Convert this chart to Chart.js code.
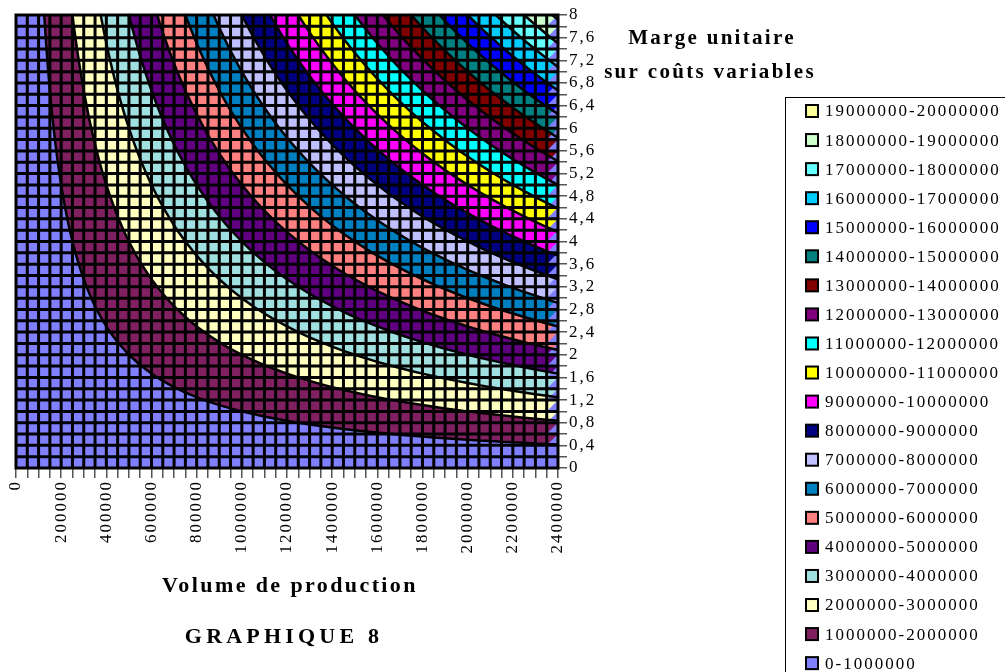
<!DOCTYPE html>
<html>
<head>
<meta charset="utf-8">
<script src="https://cdn.jsdelivr.net/npm/chart.js@4.4.0/dist/chart.umd.min.js"></script>
<style>
  html, body { margin: 0; padding: 0; background: #fff; }
  #wrap { width: 1005px; height: 672px; position: relative; }
</style>
</head>
<body>
<div id="wrap"><canvas id="surfaceChart"></canvas></div>
<script>
// Volume de production (grid nodes on x)
const volumes = [0, 50000, 100000, 150000, 200000, 250000, 300000, 350000, 400000, 450000,
  500000, 550000, 600000, 650000, 700000, 750000, 800000, 850000, 900000, 950000,
  1000000, 1050000, 1100000, 1150000, 1200000, 1250000, 1300000, 1350000, 1400000, 1450000,
  1500000, 1550000, 1600000, 1650000, 1700000, 1750000, 1800000, 1850000, 1900000, 1950000,
  2000000, 2050000, 2100000, 2150000, 2200000, 2250000, 2300000, 2350000, 2400000];

// Marge unitaire sur coûts variables (grid nodes on y)
const marges = [0, 0.2, 0.4, 0.6, 0.8, 1, 1.2, 1.4, 1.6, 1.8, 2, 2.2, 2.4, 2.6, 2.8, 3, 3.2, 3.4, 3.6, 3.8,
  4, 4.2, 4.4, 4.6, 4.8, 5, 5.2, 5.4, 5.6, 5.8, 6, 6.2, 6.4, 6.6, 6.8, 7, 7.2, 7.4, 7.6, 7.8, 8];

const volumeTickLabels = [0, 200000, 400000, 600000, 800000, 1000000, 1200000, 1400000, 1600000,
  1800000, 2000000, 2200000, 2400000];
const margeTickLabels = [0, 0.4, 0.8, 1.2, 1.6, 2, 2.4, 2.8, 3.2, 3.6, 4, 4.4, 4.8, 5.2, 5.6, 6,
  6.4, 6.8, 7.2, 7.6, 8];

// contour bands (marge totale)
const bandLimits = [0, 1000000, 2000000, 3000000, 4000000, 5000000, 6000000, 7000000, 8000000, 9000000,
  10000000, 11000000, 12000000, 13000000, 14000000, 15000000, 16000000, 17000000, 18000000, 19000000];
const bandLabels = ['0-1000000', '1000000-2000000', '2000000-3000000', '3000000-4000000',
  '4000000-5000000', '5000000-6000000', '6000000-7000000', '7000000-8000000', '8000000-9000000',
  '9000000-10000000', '10000000-11000000', '11000000-12000000', '12000000-13000000',
  '13000000-14000000', '14000000-15000000', '15000000-16000000', '16000000-17000000',
  '17000000-18000000', '18000000-19000000', '19000000-20000000'];
const bandColors = ['#8080ff', '#802060', '#ffffc0', '#a0e0e0', '#600080', '#ff8080', '#0080c0',
  '#c0c0ff', '#000080', '#ff00ff', '#ffff00', '#00ffff', '#800080', '#800000', '#008080',
  '#0000ff', '#00ccff', '#66ffff', '#ccffcc', '#ffff99'];

// marge totale = marge unitaire x volume, one row per marge
const surface = marges.map(m => volumes.map(v => v * m));

function hexToRgb(h) {
    return [parseInt(h.substr(1, 2), 16), parseInt(h.substr(3, 2), 16), parseInt(h.substr(5, 2), 16)];
}

function findCell(nodes, val) {
    for (let k = 0; k < nodes.length - 2; k++) {
        if (val < nodes[k + 1]) return k;
    }
    return nodes.length - 2;
}

function bandOf(z) {
    let b = 0;
    for (let k = 0; k < bandLimits.length; k++) {
        if (z >= bandLimits[k]) b = k;
    }
    return b;
}

const surfacePlugin = {
    id: 'surface',
    beforeDraw(chart) {
        chart.ctx.letterSpacing = '2px';
    },
    beforeDatasetsDraw(chart) {
        const { ctx, chartArea: a, scales: { x, y } } = chart;
        const xs = volumes.map(v => x.getPixelForValue(v));
        const ys = marges.map(m => y.getPixelForValue(m));
        const rgb = bandColors.map(hexToRgb);

        // colour every pixel of the plot from the interpolated surface
        const left = Math.round(a.left), top = Math.round(a.top);
        const w = Math.round(a.right) - left, h = Math.round(a.bottom) - top;
        const img = ctx.createImageData(w, h);
        for (let py = 0; py < h; py++) {
            const m = y.getValueForPixel(top + py + 0.5);
            const j = findCell(marges, m);
            const tm = Math.min(Math.max((m - marges[j]) / (marges[j + 1] - marges[j]), 0), 1);
            for (let px = 0; px < w; px++) {
                const v = x.getValueForPixel(left + px + 0.5);
                const i = findCell(volumes, v);
                const tv = Math.min(Math.max((v - volumes[i]) / (volumes[i + 1] - volumes[i]), 0), 1);
                const z = surface[j][i] * (1 - tv) * (1 - tm) + surface[j][i + 1] * tv * (1 - tm)
                    + surface[j + 1][i] * (1 - tv) * tm + surface[j + 1][i + 1] * tv * tm;
                const c = rgb[bandOf(z)];
                const o = (py * w + px) * 4;
                img.data[o] = c[0]; img.data[o + 1] = c[1]; img.data[o + 2] = c[2]; img.data[o + 3] = 255;
            }
        }
        ctx.putImageData(img, left, top);

        ctx.save();
        // Excel leaves the lower-right half of the last column in the first colour
        const li = volumes.length - 2;
        ctx.fillStyle = bandColors[0];
        for (let j = 0; j < marges.length - 1; j++) {
            ctx.beginPath();
            ctx.moveTo(xs[li], ys[j]);
            ctx.lineTo(xs[li + 1], ys[j]);
            ctx.lineTo(xs[li + 1], ys[j + 1]);
            ctx.closePath();
            ctx.fill();
        }

        // wireframe
        ctx.strokeStyle = '#000';
        ctx.lineWidth = 3;
        ctx.beginPath();
        xs.forEach(px => { ctx.moveTo(px, ys[0] + 1.5); ctx.lineTo(px, ys[ys.length - 1] - 1.5); });
        ys.forEach(py => { ctx.moveTo(xs[0] - 1.5, py); ctx.lineTo(xs[xs.length - 1] + 1.5, py); });
        ctx.stroke();

        // contour lines between bands (marching squares)
        ctx.lineWidth = 2.5;
        ctx.lineJoin = 'round';
        ctx.lineCap = 'round';
        ctx.beginPath();
        for (let b = 1; b < bandLimits.length; b++) {
            const T = bandLimits[b];
            for (let j = 0; j < marges.length - 1; j++) {
                for (let i = 0; i < volumes.length - 1; i++) {
                    const corners = [
                        [xs[i], ys[j], surface[j][i]],
                        [xs[i + 1], ys[j], surface[j][i + 1]],
                        [xs[i + 1], ys[j + 1], surface[j + 1][i + 1]],
                        [xs[i], ys[j + 1], surface[j + 1][i]]
                    ];
                    const pts = [];
                    for (let e = 0; e < 4; e++) {
                        const p = corners[e], q = corners[(e + 1) % 4];
                        if ((p[2] < T) !== (q[2] < T)) {
                            const t = (T - p[2]) / (q[2] - p[2]);
                            const pt = [p[0] + (q[0] - p[0]) * t, p[1] + (q[1] - p[1]) * t];
                            if (!pts.some(r => Math.abs(r[0] - pt[0]) < 0.01 && Math.abs(r[1] - pt[1]) < 0.01)) pts.push(pt);
                        }
                    }
                    for (let k = 0; k + 1 < pts.length; k += 2) {
                        ctx.moveTo(pts[k][0], pts[k][1]);
                        ctx.lineTo(pts[k + 1][0], pts[k + 1][1]);
                    }
                }
            }
        }
        ctx.stroke();
        ctx.restore();
    },
    afterDraw(chart) {
        const ctx = chart.ctx;
        const a = chart.chartArea;
        ctx.save();
        ctx.fillStyle = '#000';
        ctx.textBaseline = 'alphabetic';

        // axis titles
        ctx.font = 'bold 21px "Liberation Serif", "Times New Roman", serif';
        ctx.textAlign = 'center';
        ctx.letterSpacing = '2.3px';
        ctx.fillText('Marge unitaire', 712, 44);
        ctx.fillText('sur coûts variables', 710, 78);
        const cx = (a.left + a.right) / 2;
        ctx.font = 'bold 22px "Liberation Serif", "Times New Roman", serif';
        ctx.letterSpacing = '2.4px';
        ctx.fillText('Volume de production', cx + 3, 592);
        ctx.letterSpacing = '4.2px';
        ctx.fillText('GRAPHIQUE 8', cx - 3, 643);

        // legend box
        ctx.strokeStyle = '#000';
        ctx.lineWidth = 1;
        ctx.strokeRect(785.5, 97.5, 260, 620);
        ctx.font = '17px "Liberation Serif", "Times New Roman", serif';
        ctx.textAlign = 'left';
        ctx.textBaseline = 'middle';
        ctx.letterSpacing = '2px';
        const items = chart.data.datasets.slice().reverse();
        items.forEach((ds, row) => {
            const cy = 111 + row * 29.06;
            ctx.fillStyle = ds.backgroundColor;
            ctx.fillRect(806, cy - 6, 12, 12);
            ctx.lineWidth = 2;
            ctx.strokeRect(806, cy - 6, 12, 12);
            ctx.fillStyle = '#000';
            ctx.fillText(ds.label, 825, cy + 1);
        });
        ctx.restore();
    }
};

Chart.defaults.font.family = '"Liberation Serif", "Times New Roman", Times, serif';
Chart.defaults.font.size = 17;
Chart.defaults.color = '#000';

new Chart(document.getElementById('surfaceChart'), {
    type: 'scatter',
    data: {
        datasets: bandLabels.map((label, i) => ({
            label: label,
            data: [],
            backgroundColor: bandColors[i],
            borderColor: '#000'
        }))
    },
    options: {
        responsive: true,
        maintainAspectRatio: false,
        animation: false,
        layout: { padding: { left: 16, top: 15, right: 367, bottom: 54 } },
        plugins: { legend: { display: false }, tooltip: { enabled: false } },
        scales: {
            x: {
                type: 'linear', position: 'bottom', min: 0, max: 2400000,
                border: { display: false },
                grid: { drawOnChartArea: false, drawTicks: true, tickLength: 10, color: '#555', lineWidth: 1.5 },
                ticks: {
                    stepSize: 50000, autoSkip: false, minRotation: 90, maxRotation: 90, padding: 2,
                    callback: v => volumeTickLabels.includes(v) ? String(v) : ''
                },
                afterFit: s => { s.height = 150; }
            },
            y: {
                type: 'linear', position: 'right', min: 0, max: 8,
                border: { display: false },
                grid: { drawOnChartArea: false, drawTicks: true, tickLength: 9, color: '#555', lineWidth: 1.5 },
                ticks: {
                    stepSize: 0.2, autoSkip: false, padding: 2,
                    callback: v => {
                        const r = Math.round(v * 10) / 10;
                        return margeTickLabels.some(t => Math.abs(t - r) < 1e-9) ? String(r).replace('.', ',') : '';
                    }
                },
                afterFit: s => { s.width = 80; }
            }
        }
    },
    plugins: [surfacePlugin]
});
</script>
</body>
</html>
